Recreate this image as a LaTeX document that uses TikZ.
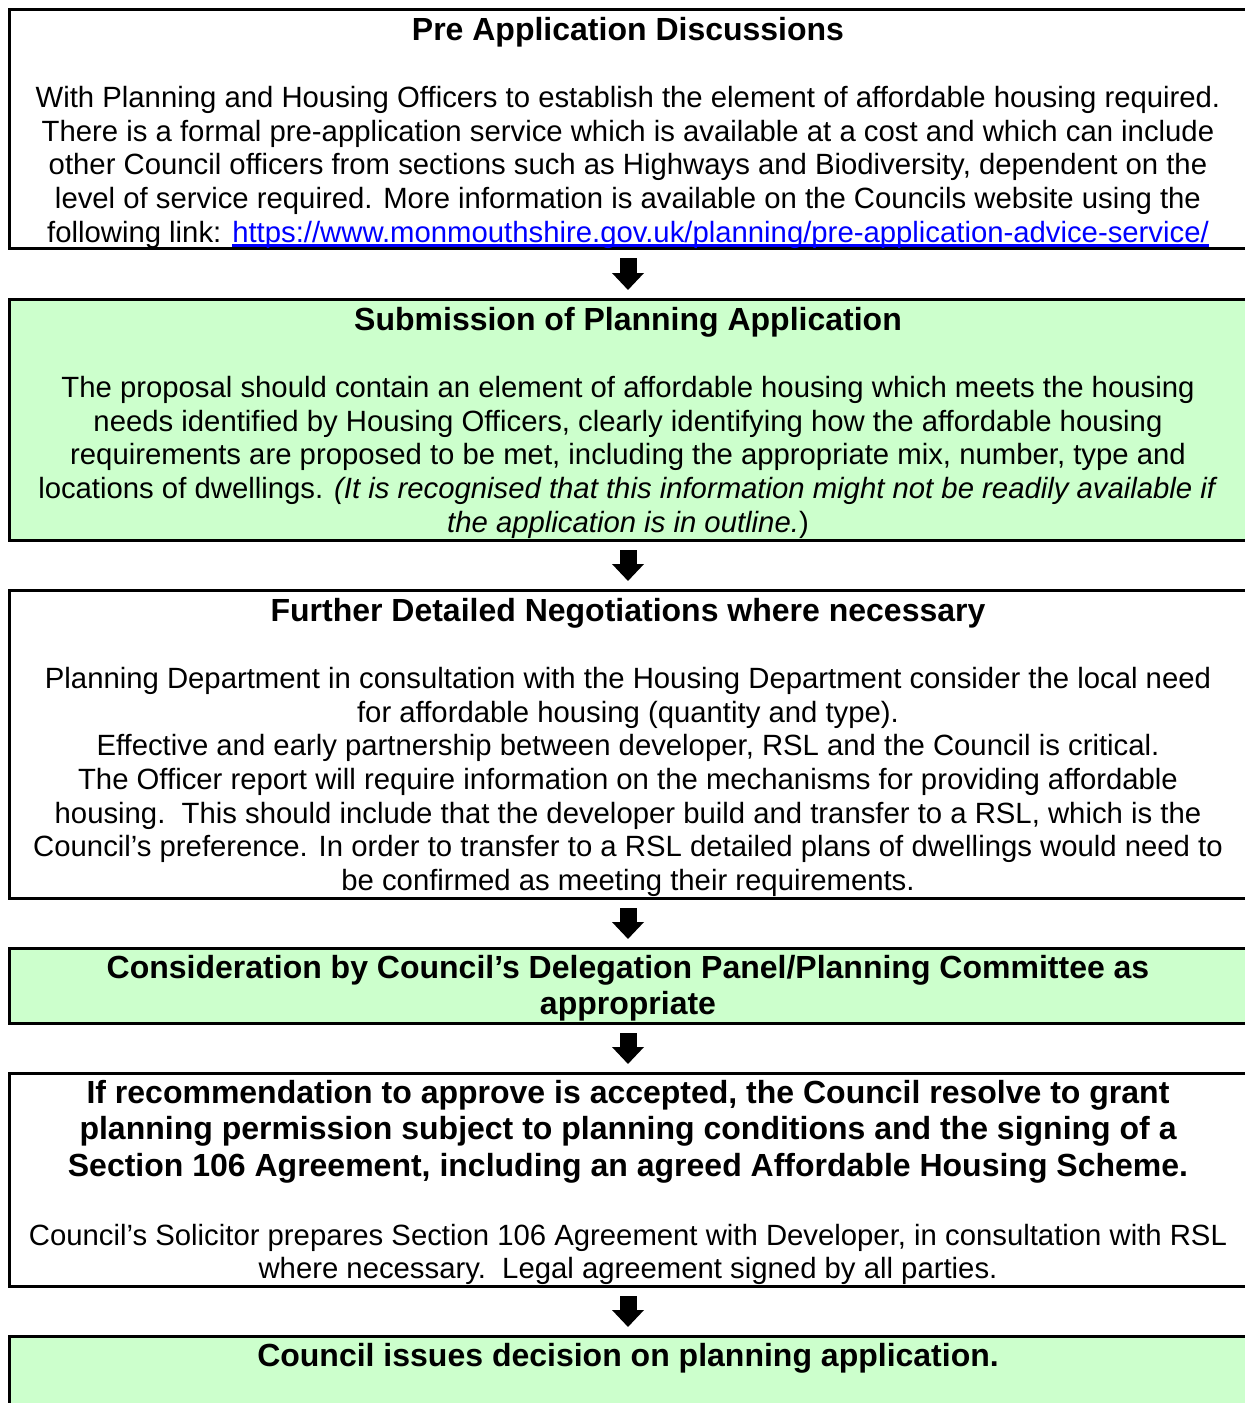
\documentclass[tikz,border=0pt]{standalone}
\usepackage{fontspec}
\setmainfont{Liberation Sans}
\usetikzlibrary{arrows.meta}
\definecolor{boxgreen}{HTML}{CCFFCC}
\definecolor{linkblue}{HTML}{0000FF}
\newcommand\bodyfont{\fontsize{29.3pt}{33.7pt}\selectfont}
\newcommand\bigfont{\fontsize{32pt}{36.5pt}\selectfont\bfseries}
\newcommand\firststrut{\rule{0pt}{30pt}}
\newcommand\ulinkblue[1]{\setbox0\hbox{#1}\rlap{\rule[-4.5pt]{\wd0}{2.4pt}}\box0}
\tikzset{
  flowbox/.style={draw=black, line width=3pt, rectangle, inner sep=0pt, outer sep=0pt, minimum width=1238pt},
  whitebox/.style={flowbox, fill=white},
  greenbox/.style={flowbox, fill=boxgreen},
  boxtext/.style={anchor=north, inner sep=0pt, outer sep=0pt, align=center, font=\bodyfont},
  bigtext/.style={anchor=north, inner sep=0pt, outer sep=0pt, align=center, font=\bigfont},
  downarrow/.style={line width=17pt, -{Triangle[width=31pt,length=17pt]}},
}
\begin{document}
\begin{tikzpicture}[x=1pt,y=-1pt]
\useasboundingbox (0,0) rectangle (1245,1403);
\clip (0,0) rectangle (1245,1403);
% boxes
\node[whitebox, minimum height=239pt] (b1) at (628,128.5) {};
\node[greenbox, minimum height=241pt] (b2) at (628,419.5) {};
\node[whitebox, minimum height=308pt] (b3) at (628,744) {};
\node[greenbox, minimum height=75pt] (b4) at (628,985.5) {};
\node[whitebox, minimum height=213pt] (b5) at (628,1179.5) {};
\node[greenbox, minimum height=90pt] (b6) at (628,1381) {};
% texts
\node[boxtext] (t1) at (628,10) {\firststrut{\bigfont Pre Application Discussions}\\[33.7pt]
With Planning and Housing Officers to establish the element of affordable housing required.\\
There is a formal pre-application service which is available at a cost and which can include\\
other Council officers from sections such as Highways and Biodiversity, dependent on the\\
level of service required. More information is available on the Councils website using the\\
following link: \textcolor{linkblue}{\ulinkblue{https://www.monmouthshire.gov.uk/planning/pre-application-advice-service/}}};
\node[boxtext] (t2) at (628,300) {\firststrut{\bigfont Submission of Planning Application}\\[33.7pt]
The proposal should contain an element of affordable housing which meets the housing\\
needs identified by Housing Officers, clearly identifying how the affordable housing\\
requirements are proposed to be met, including the appropriate mix, number, type and\\
locations of dwellings. \textit{(It is recognised that this information might not be readily available if}\\
\textit{the application is in outline.})};
\node[boxtext] (t3) at (628,591) {\firststrut{\bigfont Further Detailed Negotiations where necessary}\\[33.7pt]
Planning Department in consultation with the Housing Department consider the local need\\
for affordable housing (quantity and type).\\
Effective and early partnership between developer, RSL and the Council is critical.\\
The Officer report will require information on the mechanisms for providing affordable\\
housing.\ \ This should include that the developer build and transfer to a RSL, which is the\\
Council’s preference. In order to transfer to a RSL detailed plans of dwellings would need to\\
be confirmed as meeting their requirements.};
\node[bigtext] (t4) at (628,948) {\firststrut Consideration by Council’s Delegation Panel/Planning Committee as\\
appropriate};
\node[bigtext] (t5) at (628,1073) {\firststrut If recommendation to approve is accepted, the Council resolve to grant\\
planning permission subject to planning conditions and the signing of a\\
Section 106 Agreement, including an agreed Affordable Housing Scheme.};
\node[boxtext] (t5b) at (628,1215) {\firststrut Council’s Solicitor prepares Section 106 Agreement with Developer, in consultation with RSL\\
where necessary.\ \ Legal agreement signed by all parties.};
\node[bigtext] (t6) at (628,1336) {\firststrut Council issues decision on planning application.};
% arrows
\draw[downarrow] ([yshift=-10pt]b1.south) -- ([yshift=9pt]b2.north);
\draw[downarrow] ([yshift=-10pt]b2.south) -- ([yshift=9pt]b3.north);
\draw[downarrow] ([yshift=-10pt]b3.south) -- ([yshift=9pt]b4.north);
\draw[downarrow] ([yshift=-10pt]b4.south) -- ([yshift=9pt]b5.north);
\draw[downarrow] ([yshift=-10pt]b5.south) -- ([yshift=9pt]b6.north);
\end{tikzpicture}
\end{document}
